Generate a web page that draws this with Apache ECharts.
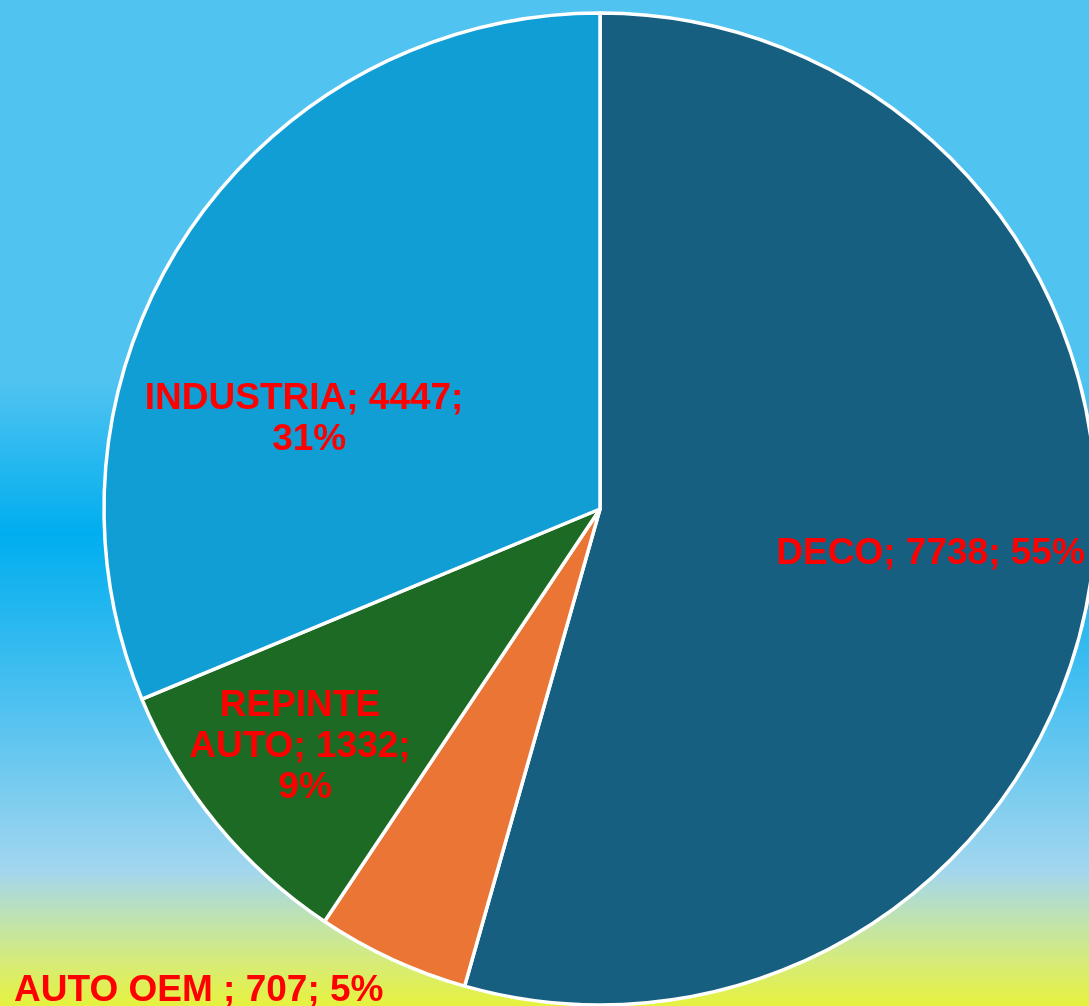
<!DOCTYPE html>
<html>
<head>
<meta charset="utf-8">
<script src="https://cdn.jsdelivr.net/npm/echarts@6/dist/echarts.min.js"></script>
<style>
  html, body { margin: 0; padding: 0; }
  #main { width: 1089px; height: 1006px; }
</style>
</head>
<body>
<div id="main"></div>
<script>
// data
var categories = ['DECO', 'AUTO OEM ', 'REPINTE AUTO', 'INDUSTRIA'];
var values = [7738, 707, 1332, 4447];
var sliceColors = ['#175F81', '#EA7535', '#1C6A23', '#119ED5'];

// label nudges (Excel "best fit" placement), offsets from the inside position
var labelShift = [[82, 10], [-296, 254], [-101, 78], [-82, 50]];
var labelWidth = [400, 500, 235, 330];

var chartDom = document.getElementById('main');
var myChart = echarts.init(chartDom);
var option;

option = {
    backgroundColor: {
        type: 'linear', x: 0, y: 0, x2: 0, y2: 1,
        colorStops: [
            { offset: 0, color: '#50C3F0' },
            { offset: 0.38, color: '#50C3F0' },
            { offset: 0.53, color: '#00AEEF' },
            { offset: 0.70, color: '#4EC1F0' },
            { offset: 0.865, color: '#A2D6EF' },
            { offset: 0.91, color: '#BDE2B4' },
            { offset: 0.955, color: '#D6EB7A' },
            { offset: 1, color: '#E6F23E' }
        ]
    },
    animation: false,
    series: [{
        type: 'pie',
        center: [600, 509],
        radius: 496,
        startAngle: 90,
        clockwise: true,
        percentPrecision: 0,
        avoidLabelOverlap: false,
        itemStyle: {
            borderColor: '#ffffff',
            borderWidth: 3.5
        },
        label: {
            show: true,
            position: 'inside',
            formatter: '{b}; {c}; {d}%',
            color: '#FF0000',
            fontFamily: '"Liberation Sans", Arial, sans-serif',
            fontWeight: 'bold',
            fontSize: 37,
            lineHeight: 41,
            align: 'center',
            overflow: 'break'
        },
        labelLine: { show: false },
        labelLayout: function (params) {
            var s = labelShift[params.dataIndex];
            return { dx: s[0], dy: s[1] };
        },
        emphasis: { disabled: true },
        data: categories.map(function (name, i) {
            return {
                name: name,
                value: values[i],
                itemStyle: { color: sliceColors[i] },
                label: { width: labelWidth[i] }
            };
        })
    }]
};

option && myChart.setOption(option);
</script>
</body>
</html>
